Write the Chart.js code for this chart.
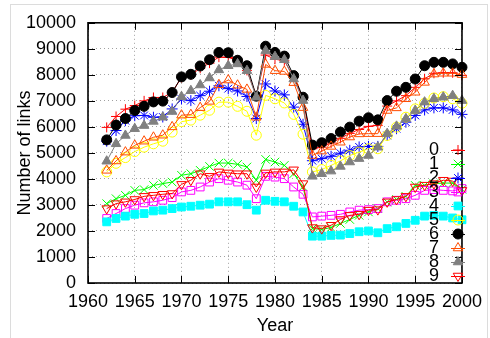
<!DOCTYPE html>
<html>
<head>
<meta charset="utf-8">
<script src="https://cdn.jsdelivr.net/npm/chart.js@4/dist/chart.umd.min.js"></script>
<style>html,body{margin:0;padding:0;background:#fff;}canvas{display:block;}</style>
</head>
<body>
<canvas id="c" width="490" height="338"></canvas>
<script>
// ---- data ----
const years = [1962,1963,1964,1965,1966,1967,1968,1969,1970,1971,1972,1973,1974,1975,1976,1977,1978,1979,1980,1981,1982,1983,1984,1985,1986,1987,1988,1989,1990,1991,1992,1993,1994,1995,1996,1997,1998,1999,2000];
const s0 = [5980,6400,6680,6820,7000,7130,7130,7330,7900,8000,8250,8450,8680,8670,8560,8170,7200,8760,8600,8540,7920,7080,5160,5220,5380,5560,5750,5900,6020,6060,6800,7000,7200,7520,7850,8060,8080,8080,7980];
const s1 = [3050,3240,3370,3560,3590,3750,3820,3880,4140,4200,4330,4480,4610,4610,4560,4460,3950,4750,4650,4520,4200,3700,2090,2060,2130,2290,2440,2600,2730,2860,3110,3210,3330,3750,3750,3820,3840,3840,3600];
const s2 = [5450,5860,6240,6430,6440,6370,6380,6690,7070,7010,7200,7370,7580,7470,7380,7170,6320,7650,7380,7230,6760,6100,4700,4780,4870,4990,5100,5230,5250,5250,5670,5930,6180,6440,6650,6730,6730,6650,6480];
const s3 = [2480,2670,2860,2990,3080,3120,3180,3280,3500,3560,3690,3880,4010,3950,3880,3760,3240,4100,4070,4010,3690,3410,2540,2570,2600,2640,2730,2800,2820,2860,3120,3180,3240,3370,3560,3590,3560,3540,3630];
const s4 = [2350,2480,2570,2640,2670,2770,2800,2860,2920,2950,2990,3030,3120,3120,3120,3010,2800,3180,3140,3120,2950,2730,1800,1800,1830,1840,1900,1970,2000,1930,2090,2160,2290,2410,2570,2600,2570,2500,2430];
const s5 = [4270,4600,4820,5050,5220,5350,5450,5800,6200,6260,6450,6640,6950,6950,6790,6600,5680,7210,7080,6920,6480,5720,4270,4360,4520,4690,4900,5030,5160,5160,5670,5990,6370,6690,6910,7110,7160,7080,6910];
const s6 = [5500,6070,6320,6630,6790,6960,6990,7320,7920,8020,8340,8580,8860,8850,8560,8350,7180,9100,8860,8720,7970,7140,5300,5390,5550,5800,5990,6220,6350,6270,7010,7370,7520,7840,8350,8480,8480,8420,8290];
const s7 = [4330,4690,5030,5290,5450,5600,5680,6000,6450,6470,6740,6980,7620,7800,7600,7440,6370,8400,8160,8130,7700,6740,4900,5070,5250,5410,5610,5730,5740,5740,6630,6730,7080,7330,7710,8030,8060,8060,8010];
const s8 = [4680,5350,5670,5930,6050,6210,6370,6590,7160,7390,7610,7880,8190,8350,8420,8160,7140,8930,8700,8580,7840,7010,4100,4200,4300,4480,4650,4780,4900,5220,5740,6020,6310,6630,6950,7080,7140,7200,7010];
const s9 = [2860,3050,3120,3210,3330,3370,3410,3440,3790,3950,4200,4100,4270,4230,4200,4200,3690,4230,4270,4270,4350,3820,2130,2090,2220,2440,2600,2640,2800,2820,3120,3210,3330,3690,3760,3820,3950,3920,3560];
const seriesLabels = ['0','1','2','3','4','5','6','7','8','9'];
const xTickValues = [1960,1965,1970,1975,1980,1985,1990,1995,2000];
const yTickValues = [0,1000,2000,3000,4000,5000,6000,7000,8000,9000,10000];
const xTitle = 'Year';
const yTitle = 'Number of links';

// ---- styles ----
const allSeries = [s0,s1,s2,s3,s4,s5,s6,s7,s8,s9];
const colors = ['#ff0000','#00ff00','#0000ff','#ff00ff','#00ffff','#ffff00','#000000','#ff4d00','#808080','#ff0000'];
const pStyles = ['cross','crossRot','star','rect','rect','circle','circle','triangle','triangle','triangle'];
const pFilled = [false,false,false,false,true,false,true,false,true,false];
const pRadius = [5,6,5.5,5.5,5.5,5,5,5.5,5.5,5.5];
const pRot = [0,0,0,0,0,0,0,0,0,180];
const FONT = "'Liberation Sans', Arial, Helvetica, sans-serif";

const datasets = allSeries.map((vals, i) => ({
  label: seriesLabels[i],
  data: years.map((yr, k) => ({x: yr, y: vals[k]})),
  borderColor: colors[i],
  backgroundColor: pFilled[i] ? colors[i] : 'rgba(0,0,0,0)',
  pointBorderColor: colors[i],
  pointBackgroundColor: pFilled[i] ? colors[i] : 'rgba(0,0,0,0)',
  pointStyle: pStyles[i],
  pointRadius: pRadius[i],
  pointRotation: pRot[i],
  pointBorderWidth: 1,
  borderWidth: 1,
  tension: 0,
  fill: false,
  clip: false,
  order: 9 - i
}));

const decorPlugin = {
  id: 'decor',
  beforeDraw(chart) {
    const ctx = chart.ctx;
    ctx.save();
    ctx.fillStyle = '#fff';
    ctx.fillRect(0, 0, chart.width, chart.height);
    ctx.strokeStyle = '#dcdcdc';
    ctx.lineWidth = 1;
    ctx.strokeRect(10.5, 4.5, 477, 345);
    ctx.restore();
  },
  afterDatasetsDraw(chart) {
    const ctx = chart.ctx;
    const a = chart.chartArea;
    const xs = chart.scales.x, ys = chart.scales.y;
    ctx.save();
    ctx.strokeStyle = '#000';
    ctx.lineWidth = 1;
    ctx.beginPath();
    xs.ticks.forEach(t => {
      const px = Math.round(xs.getPixelForValue(t.value)) + 0.5;
      ctx.moveTo(px, a.bottom); ctx.lineTo(px, a.bottom - 7);
      ctx.moveTo(px, a.top); ctx.lineTo(px, a.top + 7);
    });
    ys.ticks.forEach(t => {
      const py = Math.round(ys.getPixelForValue(t.value)) + 0.5;
      ctx.moveTo(a.left, py); ctx.lineTo(a.left + 7, py);
      ctx.moveTo(a.right, py); ctx.lineTo(a.right - 7, py);
    });
    ctx.stroke();
    ctx.lineWidth = 1.6;
    ctx.strokeRect(a.left, a.top, a.right - a.left, a.bottom - a.top);
    // key
    ctx.font = '18px ' + FONT;
    ctx.textAlign = 'right';
    ctx.textBaseline = 'middle';
    chart.data.datasets.forEach((ds, i) => {
      const yy = 150 + i * 14;
      ctx.fillStyle = '#000';
      ctx.fillText(ds.label, 439, yy);
      ctx.strokeStyle = ds.borderColor;
      ctx.lineWidth = 1;
      ctx.beginPath();
      ctx.moveTo(451, yy + 0.5); ctx.lineTo(465, yy + 0.5);
      ctx.stroke();
      const pt = new Chart.PointElement({x: 458, y: yy, options: {
        pointStyle: ds.pointStyle, radius: ds.pointRadius, rotation: ds.pointRotation,
        borderWidth: 1, borderColor: ds.pointBorderColor, backgroundColor: ds.pointBackgroundColor
      }});
      pt.draw(ctx);
    });
    ctx.restore();
  }
};

new Chart(document.getElementById('c'), {
  type: 'line',
  data: { datasets },
  options: {
    responsive: false,
    animation: false,
    devicePixelRatio: 1,
    layout: { padding: { left: 0, right: 26, top: 22, bottom: 0 } },
    plugins: { legend: { display: false }, tooltip: { enabled: false } },
    scales: {
      x: {
        type: 'linear', min: 1960, max: 2000,
        afterBuildTicks: s => { s.ticks = xTickValues.map(v => ({value: v})); },
        afterFit: s => { s.height = 55; },
        ticks: { color: '#000', font: { size: 18, family: FONT }, padding: 8, maxRotation: 0, autoSkip: false, callback: v => String(v) },
        grid: { color: '#a0a0a0', lineWidth: 1, drawTicks: false },
        border: { display: false, dash: [1, 3] },
        title: { display: true, text: xTitle, color: '#000', font: { size: 18, family: FONT }, padding: { top: 0, bottom: 1 } }
      },
      y: {
        type: 'linear', min: 0, max: 10000,
        afterBuildTicks: s => { s.ticks = yTickValues.map(v => ({value: v})); },
        afterFit: s => { s.width = 88; },
        ticks: { color: '#000', font: { size: 18, family: FONT }, padding: 12, callback: v => String(v) },
        grid: { color: '#a0a0a0', lineWidth: 1, drawTicks: false },
        border: { display: false, dash: [1, 3] },
        title: { display: true, text: yTitle, color: '#000', font: { size: 18, family: FONT }, padding: { top: 14, bottom: 0 } }
      }
    }
  },
  plugins: [decorPlugin]
});
</script>
</body>
</html>
